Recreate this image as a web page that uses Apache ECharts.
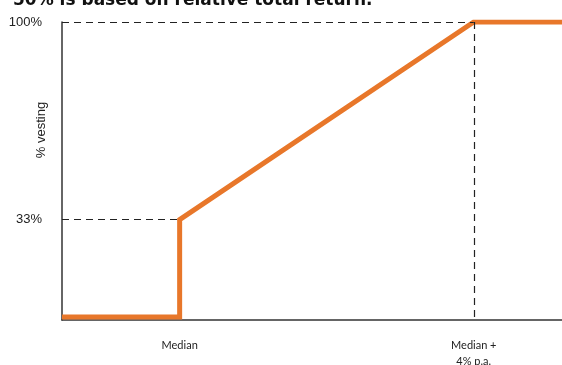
<!DOCTYPE html>
<html>
<head>
<meta charset="utf-8">
<script src="https://cdn.jsdelivr.net/npm/echarts@6/dist/echarts.min.js"></script>
<style>
  html, body { margin: 0; padding: 0; background: #fff; }
  #main { width: 562px; height: 365px; }
</style>
</head>
<body>
<div id="main"></div>
<script>
// 归属比例（% p.a. 超过中位数 -> 归属 %）
var xPoints = [-1.6, 0, 0, 4, 5.2];
var vesting = [0, 0, 33, 100, 100];
var xTickValues = [0, 4];
var xTickLabels = ['Median', 'Median +\n4% p.a.'];
var yTicks = [33, 100];

var myChart = echarts.init(document.getElementById('main'));

var lineData = xPoints.map(function (x, i) {
    return [x, vesting[i]];
});

var option = {
    animation: false,
    title: {
        text: '50% is based on relative total return.',
        left: 8,
        top: -13,
        textStyle: {fontFamily: 'DejaVu Sans', fontWeight: 'bold', fontSize: 17, color: '#111'}
    },
    grid: {left: 62, right: 0, top: 22, bottom: 45, outerBoundsMode: 'none', containLabel: false},
    xAxis: {
        type: 'value',
        min: -1.6,
        max: 5.2,
        splitLine: {show: false},
        axisTick: {show: false},
        axisLine: {onZero: false, lineStyle: {color: '#333', width: 1.5}},
        axisLabel: {
            customValues: xTickValues,
            formatter: function (v) {
                for (var i = 0; i < xTickValues.length; i++) {
                    if (Math.abs(xTickValues[i] - v) < 1e-6) return xTickLabels[i];
                }
                return '';
            },
            margin: 17,
            fontFamily: 'Lato',
            fontSize: 11,
            lineHeight: 16,
            color: '#222'
        }
    },
    yAxis: {
        type: 'value',
        min: -1,
        max: 100,
        name: '% vesting',
        nameLocation: 'middle',
        nameRotate: 90,
        nameGap: 14,
        nameMoveOverlap: false,
        nameTextStyle: {fontFamily: 'Liberation Sans', fontSize: 13, color: '#222', padding: [0, 0, 0, 82]},
        splitLine: {show: false},
        axisTick: {show: false},
        axisLine: {show: true, onZero: false, lineStyle: {color: '#333', width: 1.5}},
        axisLabel: {
            customValues: yTicks,
            formatter: '{value}%',
            margin: 20,
            fontFamily: 'Liberation Sans',
            fontSize: 13,
            color: '#222'
        }
    },
    series: [
        {
            name: '归属',
            type: 'line',
            data: lineData,
            symbol: 'none',
            z: 3,
            lineStyle: {color: '#E8772A', width: 5, join: 'miter'},
            markLine: {
                silent: true,
                symbol: 'none',
                label: {show: false},
                lineStyle: {color: '#222', type: [7, 5], width: 1.2},
                data: [
                    [{coord: [-1.6, 100]}, {coord: [4, 100]}],
                    [{coord: [-1.6, 33]}, {coord: [0, 33]}],
                    [{coord: [4, 100]}, {coord: [4, -1]}]
                ]
            }
        }
    ]
};

myChart.setOption(option);
</script>
</body>
</html>
